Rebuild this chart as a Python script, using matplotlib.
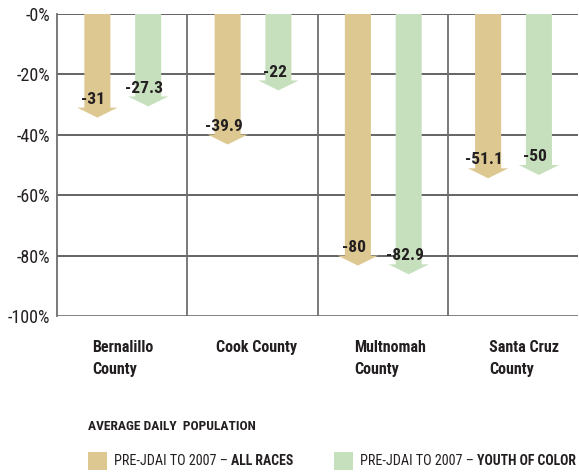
import matplotlib.pyplot as plt
from matplotlib import font_manager
from matplotlib.patches import Polygon

counties = ["Bernalillo\nCounty", "Cook County", "Multnomah\nCounty", "Santa Cruz\nCounty"]
all_races = [-31, -39.9, -80, -51.1]
youth_of_color = [-27.3, -22, -82.9, -50]
y_ticks = [0, -20, -40, -60, -80, -100]

TAN = "#DDC892"
GREEN = "#C6E0BE"
INK = "#231f20"


def pick_narrow():
    # find a condensed face among what is installed
    fonts = font_manager.fontManager.ttflist
    wanted = [("Liberation Sans Narrow", None), ("Roboto Condensed", None),
              ("Noto Sans Condensed", None), ("Open Sans Condensed", None),
              ("Noto Sans", "condensed"), ("DejaVu Sans", "condensed"),
              ("Open Sans", "condensed")]
    for name, stretch in wanted:
        for f in fonts:
            if f.name == name and (stretch is None or f.stretch in ("condensed", "semi-condensed")):
                return name, (stretch or "normal")
    return "Roboto", "normal"


NARROW, STRETCH = pick_narrow()
FONT = dict(family=[NARROW, "DejaVu Sans"], fontstretch=STRETCH)

fig = plt.figure(figsize=(5.79, 4.75), dpi=100)
ax = fig.add_axes([57 / 579, 1 - 316 / 475, 521 / 579, 302 / 475])
ax.set_xlim(-0.5, 3.5)
ax.set_ylim(-100, 0)


def draw_arrow(x, val, color):
    shaft = 0.1
    head = 0.155
    tip = 3.3
    pts = [(x - shaft, 0), (x + shaft, 0), (x + shaft, val), (x + head, val),
           (x, val - tip), (x - head, val), (x - shaft, val)]
    ax.add_patch(Polygon(pts, closed=True, facecolor=color, edgecolor="none", zorder=3))
    ax.text(x - 0.03, val + 0.3, f"{val:g}", ha="center", va="bottom", fontsize=12.5,
            fontweight="bold", color=INK, zorder=4, **FONT)


for i in range(len(counties)):
    draw_arrow(i - 0.19, all_races[i], TAN)
    draw_arrow(i + 0.2, youth_of_color[i], GREEN)

# grid
for v in y_ticks[:-1]:
    ax.axhline(v, color="#3a3a3a", lw=1.1, zorder=1)
ax.axhline(-100, color="#777777", lw=2, zorder=1)
for b in [0.5, 1.5, 2.5]:
    ax.axvline(b, color="#6e6e6e", lw=1.3, zorder=1)

for s in ["top", "right", "bottom"]:
    ax.spines[s].set_visible(False)
ax.spines["left"].set_color("#6e6e6e")
ax.spines["left"].set_linewidth(1.3)

ax.set_xticks([])
ax.set_yticks(y_ticks)
ax.set_yticklabels([f"-{abs(v)}%" for v in y_ticks], fontsize=13, color=INK, **FONT)
ax.tick_params(axis="y", length=0, pad=5)

# county labels
label_offsets = [-0.23, -0.28, -0.22, -0.18]
for i, name in enumerate(counties):
    ax.text(i + label_offsets[i], -108, name, ha="left", va="top", fontsize=11.5,
            fontweight="bold", color=INK, linespacing=1.55, **FONT)

# legend
fig.text(88 / 579, 1 - 427 / 475, "AVERAGE DAILY  POPULATION", ha="left", va="center",
         fontsize=9.7, fontweight="bold", color=INK, **FONT)
legend_items = [("ALL RACES", TAN, 88), ("YOUTH OF COLOR", GREEN, 334)]
for lab, col, px in legend_items:
    fig.patches.append(plt.Rectangle((px / 579, 1 - 470 / 475), 19 / 579, 18 / 475,
                                     transform=fig.transFigure, facecolor=col, edgecolor="none"))
    t = fig.text((px + 26) / 579, 1 - 461 / 475, "PRE-JDAI TO 2007 \u2013 ", ha="left", va="center",
                 fontsize=10.2, color=INK, **FONT)
    fig.canvas.draw()
    bb = t.get_window_extent()
    fig.text(bb.x1 / fig.bbox.width, 1 - 461 / 475, lab, ha="left", va="center",
             fontsize=9.9, fontweight="bold", color=INK, **FONT)

fig.savefig("out.png", dpi=100)
